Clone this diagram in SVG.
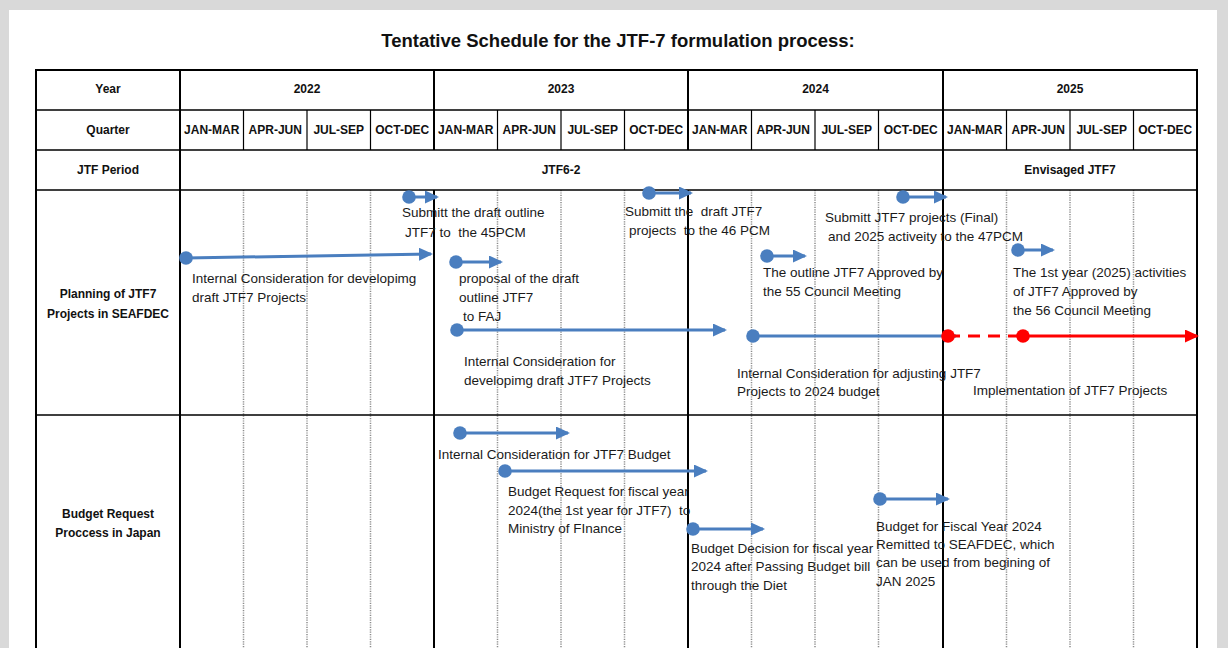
<svg xmlns="http://www.w3.org/2000/svg" width="1228" height="648" viewBox="0 0 1228 648">
<style>
.hd{font-family:"Liberation Sans",Arial,sans-serif;font-weight:bold;font-size:12px;fill:#111;text-anchor:middle}
.tt{font-family:"Liberation Sans",Arial,sans-serif;font-weight:bold;font-size:18.5px;fill:#111;text-anchor:middle}
.tx{font-family:"Liberation Sans",Arial,sans-serif;font-size:13.5px;fill:#1a1a1a;white-space:pre}
.b{stroke:#000;fill:none}
.dq{stroke:#8c8c8c;stroke-width:1.5;stroke-dasharray:1.2 1.2;fill:none}
.cb{stroke:#4a7ebf;stroke-width:3;fill:none;marker-start:url(#dot);marker-end:url(#ah)}
.cr{stroke:#ff0000;stroke-width:3;fill:none}
</style>
<defs>
<marker id="ah" markerUnits="userSpaceOnUse" markerWidth="16" markerHeight="14" viewBox="0 0 16 14" refX="12" refY="6.5" orient="auto"><path d="M0,0 L14,6.5 L0,13 z" fill="#4a7ebf"/></marker>
<marker id="dot" markerUnits="userSpaceOnUse" markerWidth="14" markerHeight="14" viewBox="0 0 14 14" refX="7" refY="7"><circle cx="7" cy="7" r="6.8" fill="#4a7ebf"/></marker>
<marker id="ahr" markerUnits="userSpaceOnUse" markerWidth="16" markerHeight="14" viewBox="0 0 16 14" refX="12" refY="6.5" orient="auto"><path d="M0,0 L14,6.5 L0,13 z" fill="#ff0000"/></marker>
<marker id="dotr" markerUnits="userSpaceOnUse" markerWidth="14" markerHeight="14" viewBox="0 0 14 14" refX="7" refY="7"><circle cx="7" cy="7" r="6.8" fill="#ff0000"/></marker>
</defs>
<rect x="0" y="0" width="1228" height="648" fill="#d9d9d9"/>
<rect x="9" y="10" width="1208" height="650" fill="#ffffff"/>
<text class="tt" x="618" y="47">Tentative Schedule for the JTF-7 formulation process:</text>

<g id="grid">
<path class="dq" d="M243.5,190V660M307,190V660M370.5,190V660M497.5,190V660M561,190V660M624.5,190V660M751.5,190V660M815,190V660M878.5,190V660M1006.5,190V660M1070,190V660M1133.5,190V660"/>
<path class="b" stroke-width="1.2" d="M243.5,110V150M307,110V150M370.5,110V150M497.5,110V150M561,110V150M624.5,110V150M751.5,110V150M815,110V150M878.5,110V150M1006.5,110V150M1070,110V150M1133.5,110V150"/>
<path class="b" stroke-width="1.5" d="M36,110H1197M36,150H1197M36,190H1197M36,415H1197"/>
<path class="b" stroke-width="2" d="M180,70V660M434,70V150M434,190V660M688,70V150M688,190V660M943,70V660"/>
<rect class="b" stroke-width="2" x="36" y="70" width="1161" height="600"/>
</g>

<g id="headers">
<text class="hd" x="108" y="93">Year</text>
<text class="hd" x="108" y="134">Quarter</text>
<text class="hd" x="108" y="174">JTF Period</text>
<text class="hd" x="307" y="93">2022</text>
<text class="hd" x="561" y="93">2023</text>
<text class="hd" x="815.5" y="93">2024</text>
<text class="hd" x="1070" y="93">2025</text>
<text class="hd" x="211.75" y="134">JAN-MAR</text>
<text class="hd" x="275.25" y="134">APR-JUN</text>
<text class="hd" x="338.75" y="134">JUL-SEP</text>
<text class="hd" x="402.25" y="134">OCT-DEC</text>
<text class="hd" x="465.75" y="134">JAN-MAR</text>
<text class="hd" x="529.25" y="134">APR-JUN</text>
<text class="hd" x="592.75" y="134">JUL-SEP</text>
<text class="hd" x="656.25" y="134">OCT-DEC</text>
<text class="hd" x="719.75" y="134">JAN-MAR</text>
<text class="hd" x="783.25" y="134">APR-JUN</text>
<text class="hd" x="846.75" y="134">JUL-SEP</text>
<text class="hd" x="910.75" y="134">OCT-DEC</text>
<text class="hd" x="974.75" y="134">JAN-MAR</text>
<text class="hd" x="1038.25" y="134">APR-JUN</text>
<text class="hd" x="1101.75" y="134">JUL-SEP</text>
<text class="hd" x="1165.25" y="134">OCT-DEC</text>
<text class="hd" x="561" y="174">JTF6-2</text>
<text class="hd" x="1070" y="174">Envisaged JTF7</text>
<text class="hd" x="108" y="298">Planning of JTF7</text>
<text class="hd" x="108" y="318">Projects in SEAFDEC</text>
<text class="hd" x="108" y="518">Budget Request</text>
<text class="hd" x="108" y="537">Proccess in Japan</text>
</g>

<g id="connectors">
<path class="cb" d="M409,197H437"/>
<path class="cb" d="M186,258L431,254"/>
<path class="cb" d="M456,262H501"/>
<path class="cb" d="M457,330H725"/>
<path class="cb" d="M649,193H691"/>
<path class="cb" d="M767,256H805"/>
<path class="cb" d="M903,197H946"/>
<path class="cb" d="M1018,250H1053"/>
<path class="cb" d="M753,336H956"/>
<path class="cr" stroke-dasharray="12 8" d="M948,336H1023" marker-start="url(#dotr)"/>
<path class="cr" d="M1023,336H1197" marker-start="url(#dotr)" marker-end="url(#ahr)"/>
<path class="cb" d="M460,433H568"/>
<path class="cb" d="M505,471H706"/>
<path class="cb" d="M693,529H763"/>
<path class="cb" d="M880,499H948"/>
</g>

<g id="n-submit-outline"><text class="tx" x="402" y="217">Submitt the draft outline</text><text class="tx" x="405" y="237">JTF7 to  the 45PCM</text></g>
<g id="n-internal-2022"><text class="tx" x="192" y="283">Internal Consideration for developimg</text><text class="tx" x="192" y="302">draft JTF7 Projects</text></g>
<g id="n-proposal"><text class="tx" x="459" y="283">proposal of the draft</text><text class="tx" x="459" y="302">outline JTF7</text><text class="tx" x="463" y="321">to FAJ</text></g>
<g id="n-internal-2023"><text class="tx" x="464" y="366">Internal Consideration for</text><text class="tx" x="464" y="385">developimg draft JTF7 Projects</text></g>
<g id="n-submit-draft"><text class="tx" x="625" y="216">Submitt the  draft JTF7</text><text class="tx" x="629" y="235">projects  to the 46 PCM</text></g>
<g id="n-outline-approved"><text class="tx" x="763" y="277">The outline JTF7 Approved by</text><text class="tx" x="763" y="296">the 55 Council Meeting</text></g>
<g id="n-submit-final"><text class="tx" x="825" y="222">Submitt JTF7 projects (Final)</text><text class="tx" x="828" y="241">and 2025 activeity to the 47PCM</text></g>
<g id="n-adjusting"><text class="tx" x="737" y="378">Internal Consideration for adjusting JTF7</text><text class="tx" x="737" y="396">Projects to 2024 budget</text></g>
<g id="n-implementation"><text class="tx" x="973" y="395">Implementation of JTF7 Projects</text></g>
<g id="n-1st-year"><text class="tx" x="1013" y="277">The 1st year (2025) activities</text><text class="tx" x="1013" y="296">of JTF7 Approved by</text><text class="tx" x="1013" y="315">the 56 Council Meeting</text></g>
<g id="n-budget-internal"><text class="tx" x="438" y="459">Internal Consideration for JTF7 Budget</text></g>
<g id="n-budget-request"><text class="tx" x="508" y="496">Budget Request for fiscal year</text><text class="tx" x="508" y="515">2024(the 1st year for JTF7)  to</text><text class="tx" x="508" y="533">Ministry of FInance</text></g>
<g id="n-budget-decision"><text class="tx" x="691" y="553">Budget Decision for fiscal year</text><text class="tx" x="691" y="571">2024 after Passing Budget bill</text><text class="tx" x="691" y="590">through the Diet</text></g>
<g id="n-budget-remitted"><text class="tx" x="876" y="531">Budget for Fiscal Year 2024</text><text class="tx" x="876" y="549">Remitted to SEAFDEC, which</text><text class="tx" x="876" y="567">can be used from begining of</text><text class="tx" x="876" y="586">JAN 2025</text></g>
</svg>
